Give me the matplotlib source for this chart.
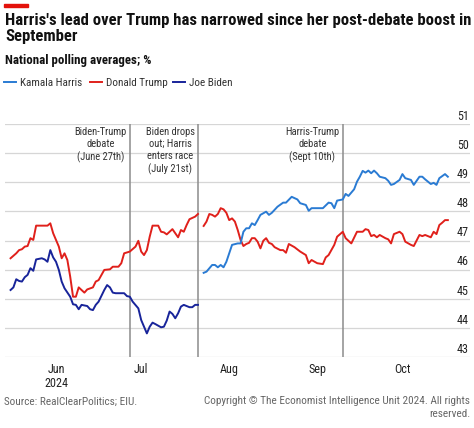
import numpy as np
import matplotlib
matplotlib.use("Agg")
import matplotlib.pyplot as plt
import matplotlib.dates as mdates
from matplotlib import font_manager as fm
from matplotlib.lines import Line2D
from matplotlib.patches import Rectangle

start = np.datetime64('2024-06-01')

# days counted from June 1st 2024, values in %
trump_days_1 = [-16, -14, -13, -12, -11, -10, -9, -8, -7, -4, -3, -2, -1, 1, 2, 3, 4, 5, 6, 7,
                8, 10, 11, 13, 14, 15, 17, 19, 20, 22, 23, 24, 26, 28, 29, 30, 31, 32, 33, 34,
                36, 37, 38, 39, 40, 41, 42, 43, 44, 45, 46, 47, 49, 50]
trump_vals_1 = [46.39, 46.56, 46.67, 46.70, 46.79, 46.81, 47.08, 47.02, 47.51, 47.51,
                47.51, 47.59, 47.25, 46.79, 46.39, 46.56, 46.33, 45.76, 45.07, 45.07,
                45.39, 45.21, 45.32, 45.39, 45.59, 45.64, 45.99, 46.01, 46.10, 46.10,
                46.22, 46.56, 46.62, 46.79, 46.99, 46.62, 46.50, 46.67, 47.13, 47.51,
                47.51, 47.30, 47.28, 47.21, 47.30, 47.39, 47.25, 47.11, 47.36, 47.30,
                47.53, 47.73, 47.82, 47.91]

trump_days_2 = [52, 53, 54, 55, 56, 57, 58, 59, 60, 61, 62, 63, 64, 65, 66, 67, 68, 69, 70, 71,
                72, 73, 74, 75, 76, 77, 79, 80, 81, 82, 84, 86, 88, 89, 90, 92, 94, 95, 96, 98,
                99, 101, 102, 104, 106, 108, 109, 110, 111, 112, 113, 114, 116, 117, 118, 119,
                121, 122, 123, 125, 126, 128, 129, 130, 132, 133, 134, 135, 136, 137, 138]
trump_vals_2 = [47.50, 47.65, 47.91, 47.88, 47.82, 47.91, 48.11, 48.07, 47.95, 47.70,
                47.76, 47.65, 47.36, 47.02, 46.81, 46.88, 46.92, 47.08, 47.08, 46.96,
                46.73, 46.99, 47.08, 46.92, 46.88, 46.77, 46.67, 46.67, 46.58, 46.88,
                46.77, 46.62, 46.50, 46.22, 46.33, 46.22, 46.19, 46.42, 46.50, 46.85,
                47.13, 47.30, 47.08, 46.90, 47.30, 47.30, 47.39, 47.36, 47.15, 47.19,
                47.11, 47.19, 47.08, 47.04, 46.90, 47.22, 47.30, 47.22, 46.96, 46.85,
                46.81, 47.19, 47.15, 47.19, 47.11, 47.30, 47.22, 47.53, 47.61, 47.70, 47.70]

harris_days = [52, 53, 55, 56, 57, 58, 59, 60, 61, 62, 64, 65, 66, 67, 68, 69, 70, 71, 72, 74,
               75, 76, 78, 80, 81, 83, 85, 86, 88, 89, 90, 94, 96, 97, 98, 99, 101, 102, 103, 105,
               106, 107, 108, 109, 110, 111, 112, 113, 114, 116, 117, 118, 119, 121, 122, 123,
               125, 126, 128, 129, 130, 132, 133, 134, 135, 137, 138]
harris_vals = [45.89, 45.93, 46.16, 46.16, 46.08, 46.16, 46.08, 46.27, 46.56, 46.85,
               46.90, 46.90, 47.30, 47.42, 47.42, 47.59, 47.53, 47.70, 47.88, 47.99,
               47.88, 47.95, 48.16, 48.30, 48.30, 48.50, 48.41, 48.28, 48.22, 48.02,
               48.11, 48.11, 48.30, 48.28, 48.11, 48.37, 48.41, 48.60, 48.53, 48.76,
               49.02, 49.19, 49.39, 49.33, 49.40, 49.31, 49.40, 49.31, 49.19, 49.14,
               49.05, 48.91, 48.94, 49.08, 49.28, 49.14, 49.08, 48.91, 49.19, 49.19,
               49.10, 48.94, 48.98, 48.91, 49.14, 49.28, 49.19]

biden_days = [-16, -15, -14, -13, -12, -11, -10, -9, -8, -7, -5, -4, -3, -2, -1, 0, 1, 2, 3, 5,
              6, 7, 8, 9, 11, 12, 13, 14, 15, 17, 18, 19, 20, 21, 24, 25, 26, 27, 29, 30,
              32, 33, 34, 35, 37, 38, 39, 40, 41, 42, 43, 44, 45, 47, 48, 49, 50]
biden_vals = [45.30, 45.39, 45.67, 45.61, 45.59, 45.74, 45.82, 46.05, 45.96, 46.35,
              46.39, 46.35, 46.27, 46.67, 46.42, 46.27, 45.99, 45.59, 45.36, 45.07,
              44.81, 44.79, 44.64, 44.79, 44.75, 44.64, 44.61, 44.79, 44.90, 45.30,
              45.47, 45.39, 45.21, 45.19, 45.19, 45.09, 45.07, 44.90, 44.67, 44.27,
              43.81, 44.04, 44.18, 44.13, 44.02, 44.04, 44.25, 44.56, 44.48, 44.33,
              44.50, 44.73, 44.79, 44.71, 44.71, 44.79, 44.79]

event_dates = ['2024-06-27', '2024-07-21', '2024-09-10']
event_labels = ['Biden-Trump\ndebate\n(June 27th)',
                'Biden drops\nout; Harris\nenters race\n(July 21st)',
                'Harris-Trump\ndebate\n(Sept 10th)']
month_dates = ['2024-06-01', '2024-07-01', '2024-08-01', '2024-09-01', '2024-10-01']
month_labels = ['Jun\n2024', 'Jul', 'Aug', 'Sep', 'Oct']
y_ticks = [43, 44, 45, 46, 47, 48, 49, 50, 51]

harris_col = '#2a7bd3'
trump_col = '#e0201b'
biden_col = '#18249a'
text_col = '#222222'


# the original uses a condensed sans; take one if it is installed
def pick_font():
    for fam, stretch in [('Roboto Condensed', 'normal'), ('Liberation Sans Narrow', 'normal'),
                         ('Open Sans Condensed', 'normal'), ('DejaVu Sans', 'condensed')]:
        try:
            path = fm.findfont(fm.FontProperties(family=fam, stretch=stretch),
                               fallback_to_default=False)
        except ValueError:
            continue
        if stretch == 'condensed' and 'ondensed' not in path:
            continue
        return fam, stretch, 1.0
    return 'Liberation Sans', 'normal', 0.86


family, stretch, k = pick_font()
plt.rcParams['font.family'] = [family, 'DejaVu Sans']
plt.rcParams['font.stretch'] = stretch


def to_dates(days):
    return start + np.array(days).astype('timedelta64[D]')


fig = plt.figure(figsize=(4.74, 4.28), dpi=100)
ax = fig.add_axes([5 / 474, 1 - 357 / 428, 465 / 474, 233 / 428])

x0 = mdates.date2num(start)
ax.set_xlim(x0 - 17.96, x0 + 145.8)
ax.set_ylim(43, 51)

for v in y_ticks:
    ax.axhline(v, color='#d6d6d6', lw=0.9, zorder=0)
    ax.annotate(str(v), xy=(1.0, v), xycoords=ax.get_yaxis_transform(),
                xytext=(-1, 3), textcoords='offset points',
                ha='right', va='baseline', fontsize=8.7 * k, color=text_col)

for d, lab in zip(event_dates, event_labels):
    xd = np.datetime64(d)
    ax.axvline(xd, color='#8c8c8c', lw=1.1, zorder=1)
    ax.annotate(lab, xy=(xd, 51), xytext=(-2.5, -2), textcoords='offset points',
                ha='right', va='top', multialignment='center', fontsize=7.6 * k,
                color='#333333', linespacing=1.25)

ax.plot(to_dates(trump_days_1), trump_vals_1, color=trump_col, lw=1.4, zorder=3)
ax.plot(to_dates(trump_days_2), trump_vals_2, color=trump_col, lw=1.4, zorder=3)
ax.plot(to_dates(harris_days), harris_vals, color=harris_col, lw=1.4, zorder=3)
ax.plot(to_dates(biden_days), biden_vals, color=biden_col, lw=1.4, zorder=3)

ax.set_xticks([np.datetime64(m) for m in month_dates])
ax.set_xticklabels(month_labels, fontsize=8.7 * k, color=text_col, linespacing=1.1)
ax.tick_params(axis='x', length=0, pad=4)
ax.set_yticks([])
for s in ax.spines.values():
    s.set_visible(False)

# header
fig.patches.append(Rectangle((4 / 474, 1 - 6.5 / 428), 24 / 474, 2.5 / 428,
                             transform=fig.transFigure, color='#e3120b'))
fig.text(5 / 474, 1 - 12.5 / 428,
         "Harris's lead over Trump has narrowed since her post-debate boost in\nSeptember",
         ha='left', va='top', fontsize=12 * k, fontweight='bold', color='#111111',
         linespacing=1.1 / k)
fig.text(5 / 474, 1 - 64 / 428, 'National polling averages; %', ha='left', va='baseline',
         fontsize=9.3 * k, fontweight='bold', color='#111111')

legend_items = [('Kamala Harris', harris_col, 4), ('Donald Trump', trump_col, 90),
                ('Joe Biden', biden_col, 173)]
for name, col, px in legend_items:
    fig.add_artist(Line2D([px / 474, (px + 12) / 474], [1 - 82 / 428, 1 - 82 / 428],
                          transform=fig.transFigure, color=col, lw=1.4))
    fig.text((px + 16) / 474, 1 - 86 / 428, name, ha='left', va='baseline',
             fontsize=8 * k, color='#333333')

fig.text(4 / 474, 1 - 396.5 / 428, 'Source: RealClearPolitics; EIU.', ha='left',
         va='top', fontsize=8.1 * k, color='#666666')
fig.text(470 / 474, 1 - 396.5 / 428,
         'Copyright \u00a9 The Economist Intelligence Unit 2024. All rights\nreserved.',
         ha='right', va='top', fontsize=8.1 * k, color='#666666',
         multialignment='right', linespacing=1.3 / k)

fig.savefig('out.png', dpi=100)
